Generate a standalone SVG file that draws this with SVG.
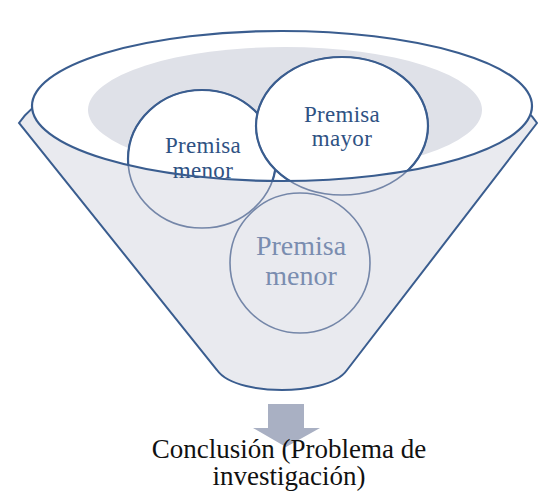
<svg xmlns="http://www.w3.org/2000/svg" width="542" height="491" viewBox="0 0 542 491">
<style>
.lbl{font-family:"Liberation Serif","Times New Roman",serif;text-anchor:middle}
.dk{fill:#2f5283;font-size:23px;letter-spacing:0.3px}
.lt{fill:#7a8db0;font-size:28px}
.out{stroke:#3a5d8f;stroke-width:2.2;fill:none}
.fad{stroke:#7486a8;stroke-width:1.6;fill:none}
</style>
<defs>
<clipPath id="inner"><ellipse cx="282" cy="106" rx="250" ry="75"/></clipPath>
</defs>
<rect width="542" height="491" fill="#ffffff"/>
<g id="funnel">
<path d="M 19 123 A 265 90 0 0 1 537 123 L 347 370 C 336 386 302 390 282 390 C 262 390 228 386 217 370 Z" fill="#e9eaef" stroke="#3a5d8f" stroke-width="2"/>
<ellipse cx="282" cy="106" rx="250" ry="75" fill="#ffffff"/>
<ellipse cx="285" cy="110" rx="197" ry="63" fill="#dfe1e8"/>
</g>
<g id="premisa-menor-1">
<ellipse cx="202" cy="159" rx="74" ry="69" fill="#ffffff" clip-path="url(#inner)"/>
<ellipse cx="202" cy="159" rx="74" ry="69" class="fad"/>
<ellipse cx="202" cy="159" rx="74" ry="69" class="out" clip-path="url(#inner)"/>
<text class="lbl dk" x="203" y="153">Premisa</text>
<text class="lbl dk" x="203" y="178">menor</text>
</g>
<g id="premisa-mayor">
<ellipse cx="342" cy="126" rx="86" ry="69" fill="#ffffff" clip-path="url(#inner)"/>
<ellipse cx="342" cy="126" rx="86" ry="69" class="fad"/>
<ellipse cx="342" cy="126" rx="86" ry="69" class="out" clip-path="url(#inner)"/>
<text class="lbl dk" x="342" y="122">Premisa</text>
<text class="lbl dk" x="342" y="146">mayor</text>
</g>
<g id="inner-rim">
<ellipse cx="282" cy="106" rx="250" ry="75" class="out"/>
</g>
<g id="premisa-menor-2">
<circle cx="300" cy="263" r="70" class="fad"/>
<text class="lbl lt" x="301" y="255">Premisa</text>
<text class="lbl lt" x="301" y="285">menor</text>
</g>
<g id="connectors">
<path d="M 268 404 L 304 404 L 304 428 L 320 428 L 286 447 L 253 428 L 268 428 Z" fill="#a9b0c3"/>
</g>
<g id="conclusion">
<text class="lbl" x="289" y="458" font-size="27" fill="#111111">Conclusión (Problema de</text>
<text class="lbl" x="289" y="485" font-size="27" fill="#111111">investigación)</text>
</g>
</svg>
